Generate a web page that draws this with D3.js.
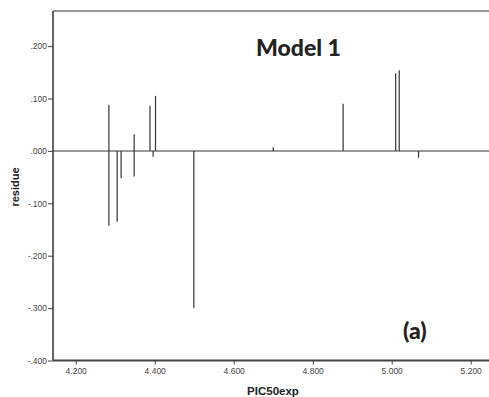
<!DOCTYPE html>
<html>
<head>
<meta charset="utf-8">
<script src="https://cdn.jsdelivr.net/npm/d3@7"></script>
<style>
html,body{margin:0;padding:0;background:#fff;}
svg{display:block;}
</style>
</head>
<body>
<svg id="chart" width="489" height="397"></svg>
<script>
// Data
const pic50exp = [4.284, 4.284, 4.305, 4.315, 4.348, 4.348, 4.388, 4.396, 4.402, 4.499, 4.700, 4.877, 5.010, 5.019, 5.068];
const residue  = [0.088, -0.143, -0.135, -0.052, 0.032, -0.049, 0.086, -0.011, 0.105, -0.300, 0.007, 0.090, 0.148, 0.154, -0.013];
const xTicks = [4.2, 4.4, 4.6, 4.8, 5.0, 5.2];
const yTicks = [-0.4, -0.3, -0.2, -0.1, 0.0, 0.1, 0.2];
const xTitle = "PIC50exp";
const yTitle = "residue";
const modelLabel = "Model 1";
const panelLabel = "(a)";

const svg = d3.select("#chart");
const L = 53, R = 495, T = 11, B = 360.5;

const x = d3.scaleLinear().domain([4.1425, 5.2615]).range([L, R]);
const y = d3.scaleLinear().domain([-0.4, 0.267]).range([B, T]);

const locale = d3.formatLocale({decimal: ".", thousands: ",", grouping: [3], currency: ["", ""], minus: "-"});
const f3 = locale.format(".3f");
const fmt = v => f3(Math.abs(v) < 1e-9 ? 0 : v).replace("0.", ".");

// top frame line
svg.append("line")
  .attr("x1", L).attr("x2", 489).attr("y1", T).attr("y2", T)
  .attr("stroke", "#777").attr("stroke-width", 1.5);

// zero reference line
svg.append("line")
  .attr("x1", L).attr("x2", 489).attr("y1", y(0)).attr("y2", y(0))
  .attr("stroke", "#777").attr("stroke-width", 1.5);

// stems
svg.append("g").selectAll("line")
  .data(pic50exp.map((v, i) => ({x: v, y: residue[i]})))
  .join("line")
  .attr("x1", d => x(d.x)).attr("x2", d => x(d.x))
  .attr("y1", y(0)).attr("y2", d => y(d.y))
  .attr("stroke", "#333").attr("stroke-width", 1.2);

// axes
const xAxis = d3.axisBottom(x).tickValues(xTicks).tickFormat(fmt).tickSize(4).tickPadding(3);
const yAxis = d3.axisLeft(y).tickValues(yTicks).tickFormat(fmt).tickSize(5).tickPadding(1);

const gx = svg.append("g").attr("transform", `translate(0,${B})`).call(xAxis);
const gy = svg.append("g").attr("transform", `translate(${L},0)`).call(yAxis);

[gx, gy].forEach(g => {
  g.select(".domain").remove();
  g.selectAll(".tick line").attr("stroke", "#444").attr("stroke-width", 1);
  g.selectAll(".tick text")
    .attr("fill", "#444")
    .style("font-family", "Arial, 'Liberation Sans', sans-serif")
    .style("font-size", "8.5px");
});

// spines
svg.append("line")
  .attr("x1", L).attr("x2", L).attr("y1", T).attr("y2", B)
  .attr("stroke", "#333").attr("stroke-width", 1.5);
svg.append("line")
  .attr("x1", L).attr("x2", 489).attr("y1", B).attr("y2", B)
  .attr("stroke", "#444").attr("stroke-width", 1.8);

// axis titles
svg.append("text")
  .attr("x", 273).attr("y", 394.5)
  .attr("text-anchor", "middle")
  .style("font-family", "Arial, 'Liberation Sans', sans-serif")
  .style("font-weight", "bold").style("font-size", "11.5px")
  .attr("fill", "#222")
  .text(xTitle);

svg.append("text")
  .attr("transform", `translate(18.5,187) rotate(-90)`)
  .attr("text-anchor", "middle")
  .style("font-family", "Arial, 'Liberation Sans', sans-serif")
  .style("font-weight", "bold").style("font-size", "11px")
  .attr("fill", "#222")
  .text(yTitle);

// annotations
svg.append("text")
  .attr("x", 256).attr("y", 56)
  .style("font-family", "Lato, 'Open Sans', sans-serif")
  .style("font-weight", "900").style("font-size", "23px")
  .attr("fill", "#222")
  .text(modelLabel);

svg.append("text")
  .attr("x", 403).attr("y", 339)
  .style("font-family", "Lato, 'Open Sans', sans-serif")
  .style("font-weight", "900").style("font-size", "23px")
  .attr("fill", "#222")
  .text(panelLabel);
</script>
</body>
</html>
